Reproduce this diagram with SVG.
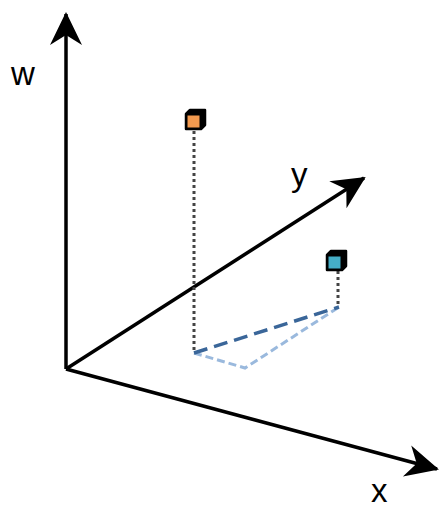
<svg xmlns="http://www.w3.org/2000/svg" width="440" height="508" viewBox="0 0 440 508">
<style>
.axis{stroke:#000;stroke-width:3.5;fill:none}
.lbl{font-family:"Liberation Sans",Arial,sans-serif;font-size:33px;fill:#000}
.drop{stroke:#444;stroke-width:3;stroke-dasharray:3 3;fill:none}
.cube{stroke:#000;stroke-width:2.5;stroke-linejoin:round}
</style>
<defs>
<marker id="ah" markerWidth="38" markerHeight="38" viewBox="-34 -18 38 36" refX="0" refY="0" orient="auto" markerUnits="userSpaceOnUse">
<path d="M2,0 L-31,-16 L-21,0 L-31,16 Z" fill="#000"/>
</marker>
</defs>
<g id="connectors">
<line class="axis" x1="66" y1="369" x2="66" y2="14" marker-end="url(#ah)"/>
<line class="axis" x1="66" y1="369" x2="364" y2="178" marker-end="url(#ah)"/>
<line class="axis" x1="66" y1="369" x2="437" y2="469" marker-end="url(#ah)"/>
<line class="drop" x1="194" y1="131" x2="194" y2="353"/>
<line class="drop" x1="338" y1="271" x2="338" y2="307"/>
<polyline points="194,353 245,368 339,307" fill="none" stroke="#9ab9dd" stroke-width="3" stroke-dasharray="8 4"/>
<line x1="194" y1="353" x2="339" y2="307" stroke="#3a6699" stroke-width="3.5" stroke-dasharray="14 7"/>
</g>
<g id="label-w"><text class="lbl" x="11" y="85">w</text></g>
<g id="label-y"><text class="lbl" x="291" y="186">y</text></g>
<g id="label-x"><text class="lbl" x="371" y="502">x</text></g>
<g id="point-orange">
<path class="cube" d="M186,114 L190,110 L205,110 L205,125 L201,129 L186,129 Z" fill="#000"/>
<rect x="187.5" y="115.5" width="12" height="12" fill="#f39a4f"/>
</g>
<g id="point-cyan">
<path class="cube" d="M327,255 L331,251 L346,251 L346,266 L342,270 L327,270 Z" fill="#000"/>
<rect x="328.5" y="256.5" width="12" height="12" fill="#45aec7"/>
</g>
</svg>
